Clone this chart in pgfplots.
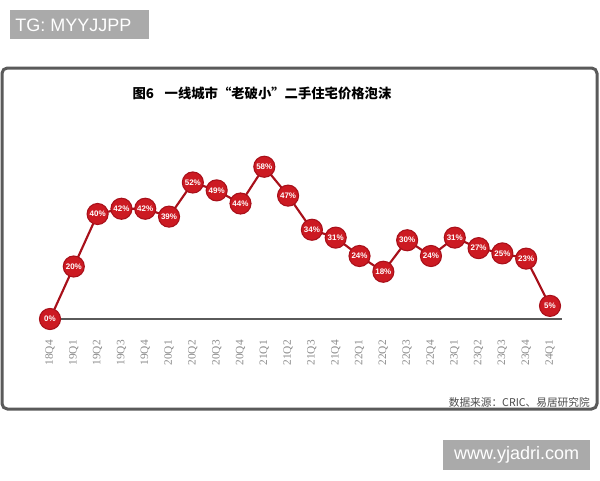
\documentclass[border=0pt]{standalone}
\usepackage{fontspec}
\setmainfont{Liberation Serif}
\newfontfamily\cjk{Noto Sans CJK SC}
\newfontfamily\wsans{Liberation Sans}
\usepackage{pgfplots}
\pgfplotsset{compat=1.18}
\definecolor{mred}{HTML}{CC1A22}
\definecolor{mredd}{HTML}{A8101A}
\definecolor{wm}{HTML}{AAAAAA}
\definecolor{framec}{HTML}{5A5A5A}
\begin{document}
\begin{tikzpicture}[x=1pt,y=1pt]
\useasboundingbox (0,0) rectangle (450,360);
\fill[white] (0,0) rectangle (450,360);
% watermark top-left
\fill[wm] (7.5,330.75) rectangle (111.75,352.5);
\node[anchor=west, text=white, font=\wsans\fontsize{13.5}{13.5}\selectfont, inner sep=0] at (11.25,341.25) {TG: MYYJJPP};
% frame
\draw[framec, line width=2.25pt, rounded corners=4pt] (1.5,53.25) rectangle (447.75,309);
\node[font=\cjk\bfseries\fontsize{10}{10}\selectfont] at (196.5,290.25) {图6\hspace{0.8em}一线城市“老破小”二手住宅价格泡沫};
\node[anchor=east, font=\cjk\fontsize{8}{8}\selectfont, text=black!70, inner sep=0] at (442.5,58.5) {数据来源：CRIC、易居研究院};
% watermark bottom-right
\fill[wm] (332.25,7.5) rectangle (442.5,30);
\node[text=white, font=\wsans\fontsize{13.5}{13.5}\selectfont, inner sep=0] at (387.4,18.75) {www.yjadri.com};
\begin{axis}[
  at={(37.5pt,120.75pt)}, anchor=south west,
  scale only axis, width=375pt, height=114.2pt,
  xmin=0, xmax=21, ymin=0, ymax=58,
  clip=false,
  axis line style={draw=none},
  major tick length=0pt,
  ytick=\empty,
  /pgf/number format/assume math mode=true,
  xtick={0,...,21},
  xticklabels={18Q4,19Q1,19Q2,19Q3,19Q4,20Q1,20Q2,20Q3,20Q4,21Q1,21Q2,21Q3,21Q4,22Q1,22Q2,22Q3,22Q4,23Q1,23Q2,23Q3,23Q4,24Q1},
  xticklabel style={yshift=-15.75pt, rotate=90, anchor=east, font=\fontsize{8.5}{8.5}\selectfont, text=black!45, inner sep=0pt},
]
\draw[framec, line width=1.5pt] (axis cs:0,0) -- (axis cs:21.5,0);
\addplot[mredd, line width=1.6pt, mark=*, mark size=7.9pt,
  mark options={fill=mred, draw=mredd, line width=0.8pt},
  point meta=y,
  nodes near coords={\pgfmathprintnumber{\pgfplotspointmeta}\%},
  nodes near coords style={anchor=center, text=white, font=\wsans\bfseries\fontsize{6}{6}\selectfont, inner sep=0pt},
] coordinates {
(0,0) (1,20) (2,40) (3,42) (4,42) (5,39) (6,52) (7,49) (8,44) (9,58) (10,47)
(11,34) (12,31) (13,24) (14,18) (15,30) (16,24) (17,31) (18,27) (19,25) (20,23) (21,5)
};
\end{axis}
\end{tikzpicture}
\end{document}
